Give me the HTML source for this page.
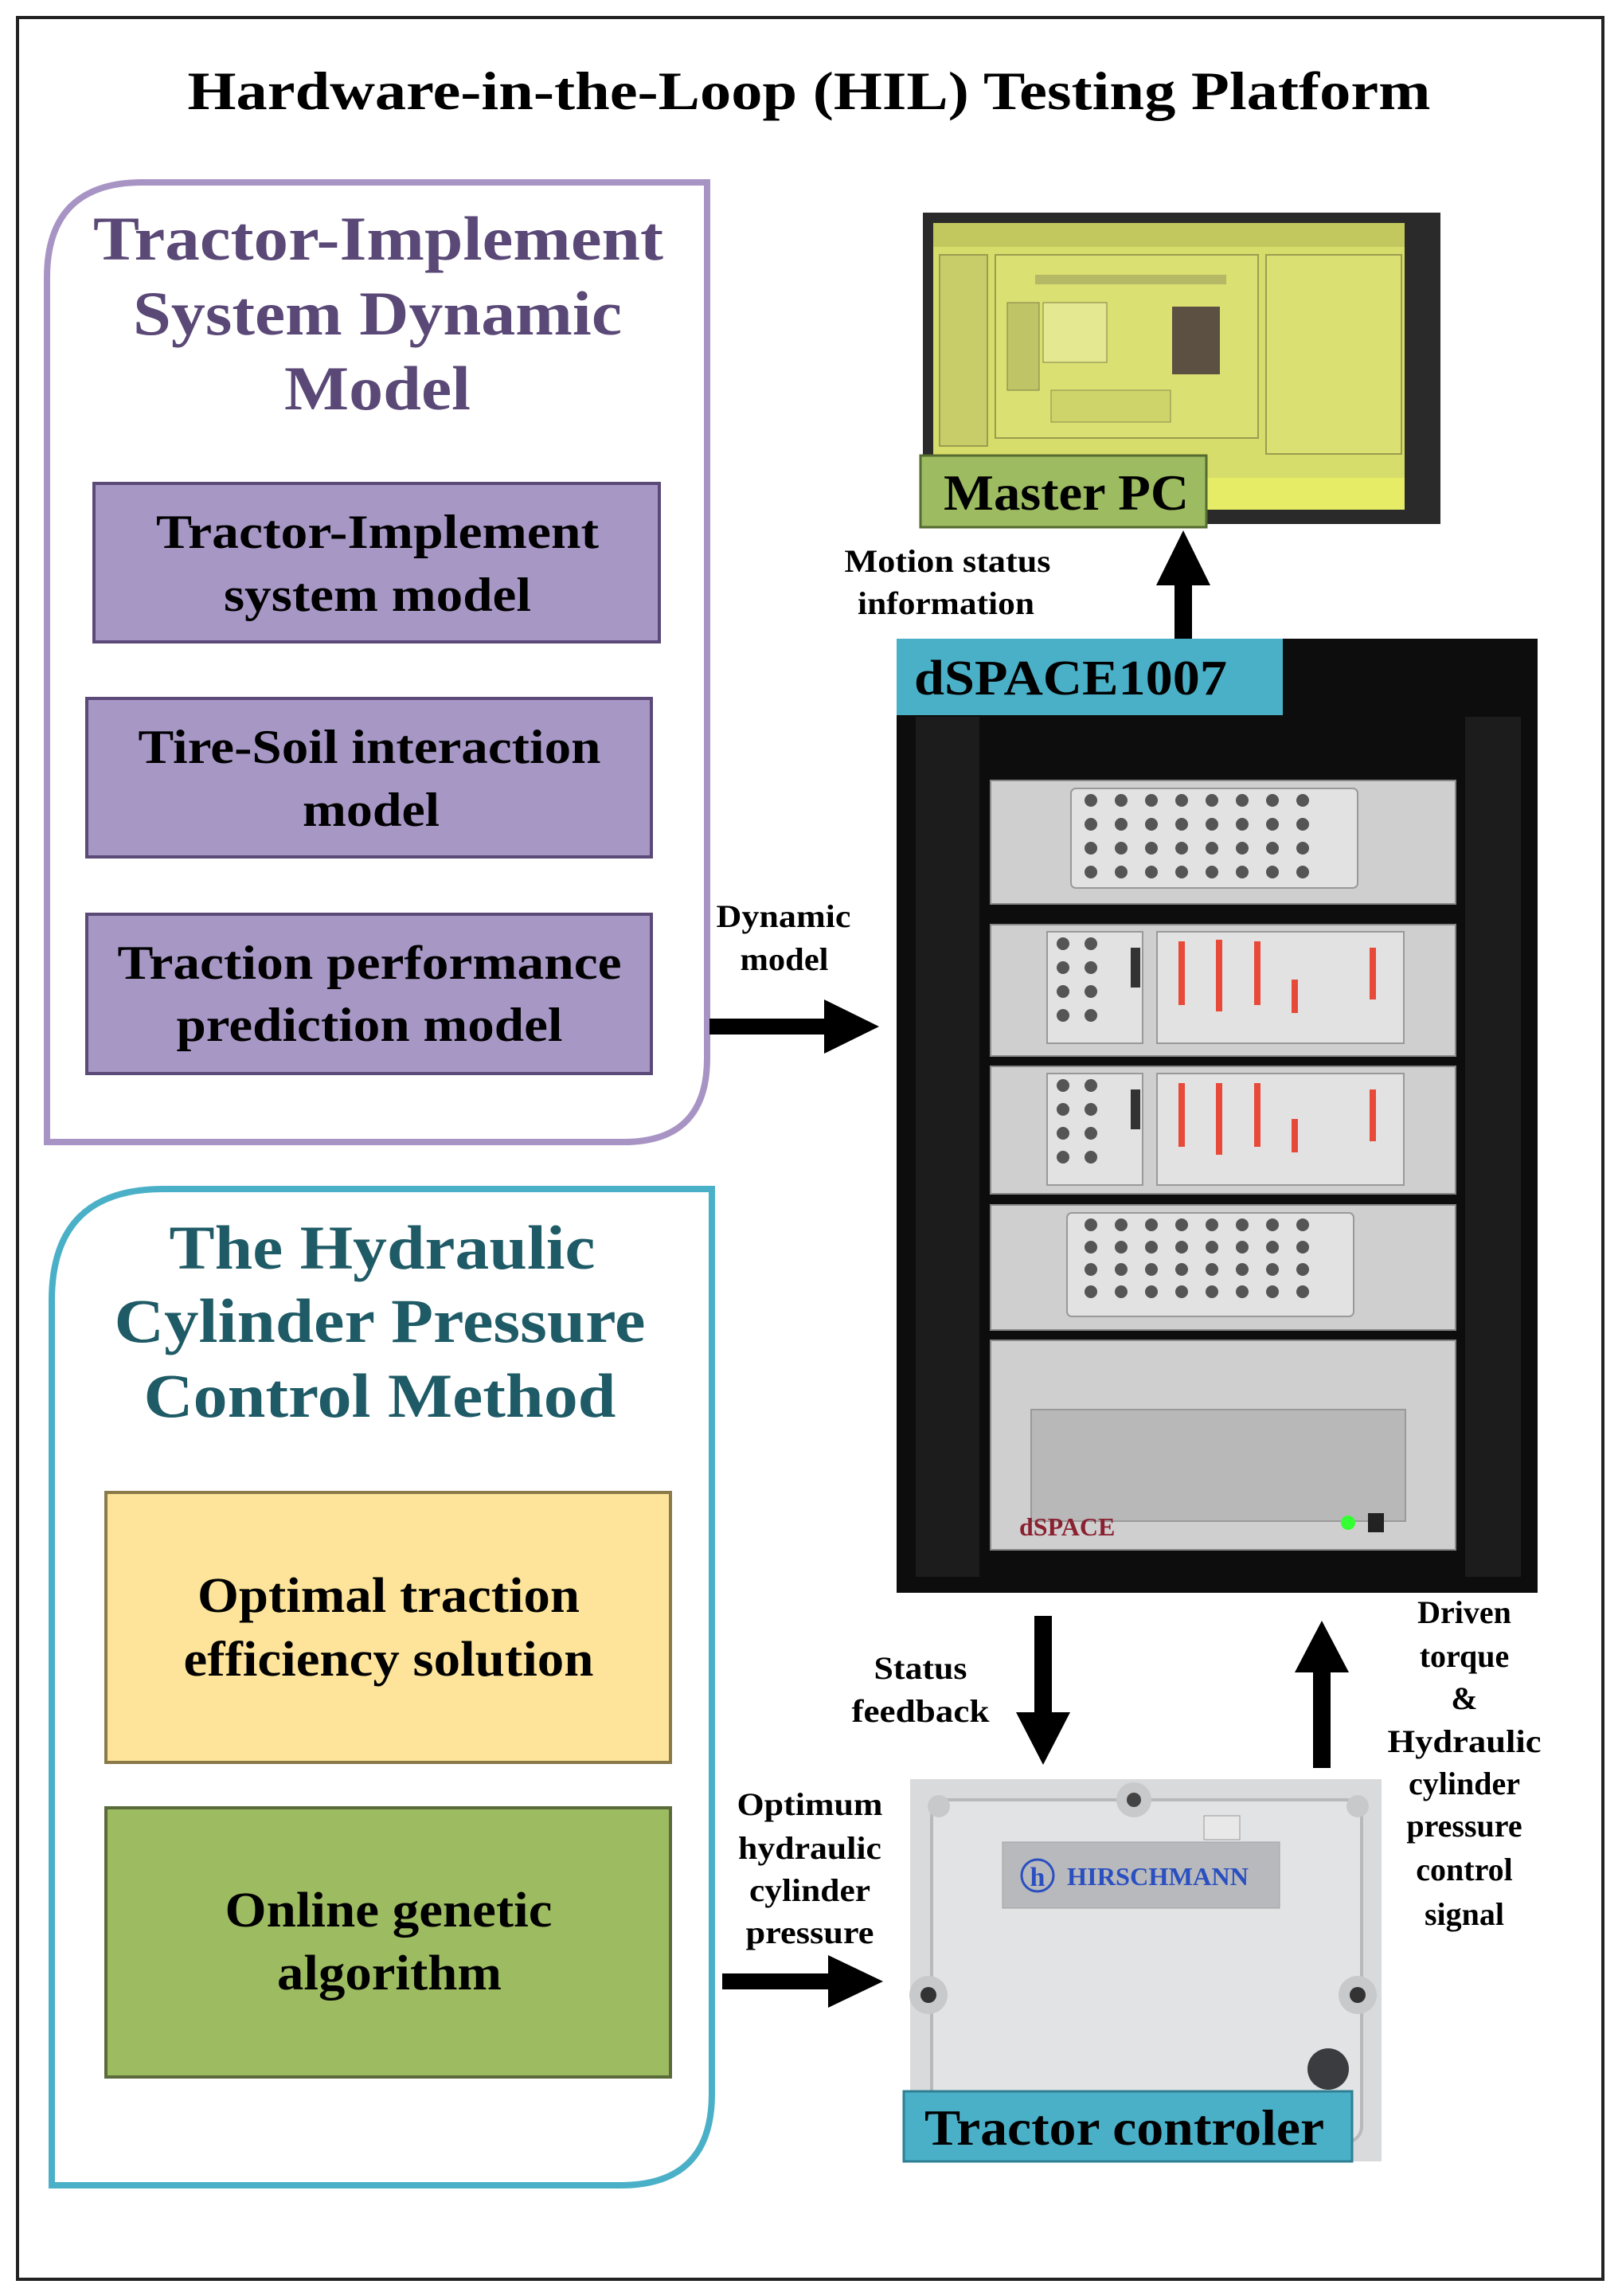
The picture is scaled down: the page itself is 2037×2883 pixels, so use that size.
<!DOCTYPE html>
<html><head><meta charset="utf-8"><style>
html,body{margin:0;padding:0;background:#fff;}
svg{display:block;}
text{font-family:"Liberation Serif",serif;font-weight:bold;}
</style></head><body>
<svg width="2037" height="2883" viewBox="0 0 2037 2883" xmlns="http://www.w3.org/2000/svg">
<rect x="0" y="0" width="2037" height="2883" fill="#fff"/>
<rect x="22" y="22" width="1991" height="2840" fill="none" stroke="#222" stroke-width="4"/>
<text x="1016" y="137" font-size="68" text-anchor="middle" textLength="1561" lengthAdjust="spacingAndGlyphs">Hardware-in-the-Loop (HIL) Testing Platform</text>

<!-- purple panel -->
<path d="M59,349 Q59,229 179,229 L888,229 L888,1329 Q888,1434 783,1434 L59,1434 Z" fill="#fff" stroke="#a894c4" stroke-width="8"/>
<g fill="#5a4877" font-size="78">
<text x="475" y="326" text-anchor="middle" textLength="716" lengthAdjust="spacingAndGlyphs">Tractor-Implement</text>
<text x="474" y="420" text-anchor="middle" textLength="614" lengthAdjust="spacingAndGlyphs">System Dynamic</text>
<text x="474" y="514" text-anchor="middle" textLength="234" lengthAdjust="spacingAndGlyphs">Model</text>
</g>
<g stroke="#5b4a78" stroke-width="4" fill="#a797c5">
<rect x="118" y="607" width="710" height="199"/>
<rect x="109" y="877" width="709" height="199"/>
<rect x="109" y="1148" width="709" height="200"/>
</g>
<g font-size="60" text-anchor="middle" fill="#000">
<text x="474" y="688" textLength="556" lengthAdjust="spacingAndGlyphs">Tractor-Implement</text>
<text x="474" y="767" textLength="386" lengthAdjust="spacingAndGlyphs">system model</text>
<text x="464" y="958" textLength="581" lengthAdjust="spacingAndGlyphs">Tire-Soil interaction</text>
<text x="466" y="1037" textLength="172" lengthAdjust="spacingAndGlyphs">model</text>
<text x="464" y="1229" textLength="633" lengthAdjust="spacingAndGlyphs">Traction performance</text>
<text x="464" y="1307" textLength="485" lengthAdjust="spacingAndGlyphs">prediction model</text>
</g>

<!-- teal panel -->
<path d="M65,1633 Q65,1493 205,1493 L894,1493 L894,2629 Q894,2744 779,2744 L65,2744 Z" fill="#fff" stroke="#4ab0c8" stroke-width="8"/>
<g fill="#1f5b66" font-size="78" text-anchor="middle">
<text x="480" y="1593" textLength="535" lengthAdjust="spacingAndGlyphs">The Hydraulic</text>
<text x="477" y="1685" textLength="667" lengthAdjust="spacingAndGlyphs">Cylinder Pressure</text>
<text x="477" y="1779" textLength="593" lengthAdjust="spacingAndGlyphs">Control Method</text>
</g>
<rect x="133" y="1874" width="709" height="339" fill="#fde49a" stroke="#8a7a4a" stroke-width="4"/>
<rect x="133" y="2270" width="709" height="338" fill="#9dbb61" stroke="#5a6a3a" stroke-width="4"/>
<g font-size="62" text-anchor="middle" fill="#000">
<text x="488" y="2024" textLength="480" lengthAdjust="spacingAndGlyphs">Optimal traction</text>
<text x="488" y="2104" textLength="515" lengthAdjust="spacingAndGlyphs">efficiency solution</text>
<text x="488" y="2419" textLength="411" lengthAdjust="spacingAndGlyphs">Online genetic</text>
<text x="489" y="2498" textLength="282" lengthAdjust="spacingAndGlyphs">algorithm</text>
</g>

<!-- monitor -->
<rect x="1159" y="267" width="650" height="391" fill="#2a2a2a"/>
<rect x="1172" y="280" width="592" height="360" fill="#d6dd6a"/>
<rect x="1172" y="280" width="592" height="30" fill="#c3c85e"/>
<rect x="1180" y="320" width="60" height="240" fill="#c8cd6a" stroke="#9a9d50" stroke-width="2"/>
<rect x="1250" y="320" width="330" height="230" fill="#dbe072" stroke="#9a9d50" stroke-width="2"/>
<rect x="1300" y="345" width="240" height="12" fill="#b5b865"/>
<rect x="1265" y="380" width="40" height="110" fill="#bfc466" stroke="#7f7f48"/>
<rect x="1310" y="380" width="80" height="75" fill="#e4e890" stroke="#7f7f48"/>
<rect x="1472" y="385" width="60" height="85" fill="#5c5042"/>
<rect x="1590" y="320" width="170" height="250" fill="#dbe072" stroke="#9a9d50" stroke-width="2"/>
<rect x="1320" y="490" width="150" height="40" fill="#cfd46a" stroke="#8a8d50"/>
<rect x="1172" y="600" width="592" height="40" fill="#e6ec66"/>
<rect x="1156" y="572" width="359" height="90" fill="#9dbb61" stroke="#556b2f" stroke-width="3"/>
<text x="1339" y="640" font-size="64" text-anchor="middle" textLength="308" lengthAdjust="spacingAndGlyphs">Master PC</text>

<!-- up arrow to master PC -->
<rect x="1475" y="730" width="22" height="75" fill="#000"/>
<polygon points="1452,735 1486,666 1520,735" fill="#000"/>
<g font-size="40" text-anchor="middle">
<text x="1190" y="718" textLength="259" lengthAdjust="spacingAndGlyphs">Motion status</text>
<text x="1188" y="771" textLength="222" lengthAdjust="spacingAndGlyphs">information</text>
</g>

<!-- rack -->
<rect x="1126" y="802" width="805" height="1198" fill="#0d0d0d"/>
<rect x="1150" y="900" width="80" height="1080" fill="#1c1c1c"/>
<rect x="1840" y="900" width="70" height="1080" fill="#1c1c1c"/>
<g fill="#cfcfcf" stroke="#888" stroke-width="2">
<rect x="1244" y="980" width="584" height="155"/>
<rect x="1244" y="1161" width="584" height="165"/>
<rect x="1244" y="1339" width="584" height="160"/>
<rect x="1244" y="1513" width="584" height="157"/>
<rect x="1244" y="1683" width="584" height="263"/>
</g>
<g fill="#e2e2e2" stroke="#999" stroke-width="2">
<rect x="1345" y="990" width="360" height="125" rx="6"/>
<rect x="1315" y="1170" width="120" height="140"/>
<rect x="1453" y="1170" width="310" height="140"/>
<rect x="1315" y="1348" width="120" height="140"/>
<rect x="1453" y="1348" width="310" height="140"/>
<rect x="1340" y="1523" width="360" height="130" rx="6"/>
<rect x="1295" y="1770" width="470" height="140" fill="#b8b8b8"/>
</g>
<g fill="#555">
<circle cx="1370" cy="1005" r="8"/><circle cx="1408" cy="1005" r="8"/><circle cx="1446" cy="1005" r="8"/><circle cx="1484" cy="1005" r="8"/><circle cx="1522" cy="1005" r="8"/><circle cx="1560" cy="1005" r="8"/><circle cx="1598" cy="1005" r="8"/><circle cx="1636" cy="1005" r="8"/>
<circle cx="1370" cy="1035" r="8"/><circle cx="1408" cy="1035" r="8"/><circle cx="1446" cy="1035" r="8"/><circle cx="1484" cy="1035" r="8"/><circle cx="1522" cy="1035" r="8"/><circle cx="1560" cy="1035" r="8"/><circle cx="1598" cy="1035" r="8"/><circle cx="1636" cy="1035" r="8"/>
<circle cx="1370" cy="1065" r="8"/><circle cx="1408" cy="1065" r="8"/><circle cx="1446" cy="1065" r="8"/><circle cx="1484" cy="1065" r="8"/><circle cx="1522" cy="1065" r="8"/><circle cx="1560" cy="1065" r="8"/><circle cx="1598" cy="1065" r="8"/><circle cx="1636" cy="1065" r="8"/>
<circle cx="1370" cy="1095" r="8"/><circle cx="1408" cy="1095" r="8"/><circle cx="1446" cy="1095" r="8"/><circle cx="1484" cy="1095" r="8"/><circle cx="1522" cy="1095" r="8"/><circle cx="1560" cy="1095" r="8"/><circle cx="1598" cy="1095" r="8"/><circle cx="1636" cy="1095" r="8"/>
<circle cx="1370" cy="1538" r="8"/><circle cx="1408" cy="1538" r="8"/><circle cx="1446" cy="1538" r="8"/><circle cx="1484" cy="1538" r="8"/><circle cx="1522" cy="1538" r="8"/><circle cx="1560" cy="1538" r="8"/><circle cx="1598" cy="1538" r="8"/><circle cx="1636" cy="1538" r="8"/>
<circle cx="1370" cy="1566" r="8"/><circle cx="1408" cy="1566" r="8"/><circle cx="1446" cy="1566" r="8"/><circle cx="1484" cy="1566" r="8"/><circle cx="1522" cy="1566" r="8"/><circle cx="1560" cy="1566" r="8"/><circle cx="1598" cy="1566" r="8"/><circle cx="1636" cy="1566" r="8"/>
<circle cx="1370" cy="1594" r="8"/><circle cx="1408" cy="1594" r="8"/><circle cx="1446" cy="1594" r="8"/><circle cx="1484" cy="1594" r="8"/><circle cx="1522" cy="1594" r="8"/><circle cx="1560" cy="1594" r="8"/><circle cx="1598" cy="1594" r="8"/><circle cx="1636" cy="1594" r="8"/>
<circle cx="1370" cy="1622" r="8"/><circle cx="1408" cy="1622" r="8"/><circle cx="1446" cy="1622" r="8"/><circle cx="1484" cy="1622" r="8"/><circle cx="1522" cy="1622" r="8"/><circle cx="1560" cy="1622" r="8"/><circle cx="1598" cy="1622" r="8"/><circle cx="1636" cy="1622" r="8"/>
<circle cx="1335" cy="1185" r="8"/><circle cx="1370" cy="1185" r="8"/><circle cx="1335" cy="1215" r="8"/><circle cx="1370" cy="1215" r="8"/><circle cx="1335" cy="1245" r="8"/><circle cx="1370" cy="1245" r="8"/><circle cx="1335" cy="1275" r="8"/><circle cx="1370" cy="1275" r="8"/>
<circle cx="1335" cy="1363" r="8"/><circle cx="1370" cy="1363" r="8"/><circle cx="1335" cy="1393" r="8"/><circle cx="1370" cy="1393" r="8"/><circle cx="1335" cy="1423" r="8"/><circle cx="1370" cy="1423" r="8"/><circle cx="1335" cy="1453" r="8"/><circle cx="1370" cy="1453" r="8"/>
<rect x="1420" y="1190" width="12" height="50" fill="#333"/>
<rect x="1420" y="1368" width="12" height="50" fill="#333"/>
</g>
<g fill="#e84a3a">
<rect x="1480" y="1182" width="8" height="80"/><rect x="1527" y="1180" width="8" height="90"/><rect x="1575" y="1182" width="8" height="80"/><rect x="1622" y="1230" width="8" height="42"/><rect x="1720" y="1190" width="8" height="65"/>
<rect x="1480" y="1360" width="8" height="80"/><rect x="1527" y="1360" width="8" height="90"/><rect x="1575" y="1360" width="8" height="80"/><rect x="1622" y="1405" width="8" height="42"/><rect x="1720" y="1368" width="8" height="65"/>
</g>
<text x="1280" y="1928" font-family="Liberation Sans,sans-serif" font-size="32" fill="#8a2030">dSPACE</text>
<circle cx="1693" cy="1912" r="9" fill="#3f3"/>
<rect x="1718" y="1900" width="20" height="24" fill="#222"/>
<rect x="1126" y="802" width="485" height="96" fill="#4ab0c8"/>
<text x="1148" y="872" font-size="62" textLength="393" lengthAdjust="spacingAndGlyphs">dSPACE1007</text>

<!-- dynamic model arrow -->
<rect x="891" y="1279" width="150" height="20" fill="#000"/>
<polygon points="1035,1255 1104,1289 1035,1323" fill="#000"/>
<g font-size="40" text-anchor="middle">
<text x="984" y="1164" textLength="169" lengthAdjust="spacingAndGlyphs">Dynamic</text>
<text x="985" y="1218" textLength="111" lengthAdjust="spacingAndGlyphs">model</text>
</g>

<!-- status feedback arrow down -->
<rect x="1299" y="2029" width="22" height="125" fill="#000"/>
<polygon points="1276,2150 1310,2216 1344,2150" fill="#000"/>
<g font-size="40" text-anchor="middle">
<text x="1156" y="2108" textLength="117" lengthAdjust="spacingAndGlyphs">Status</text>
<text x="1156" y="2162" textLength="173" lengthAdjust="spacingAndGlyphs">feedback</text>
</g>

<!-- up arrow right -->
<rect x="1649" y="2095" width="22" height="125" fill="#000"/>
<polygon points="1626,2100 1660,2035 1694,2100" fill="#000"/>
<g font-size="40" text-anchor="middle">
<text x="1839" y="2038">Driven</text>
<text x="1839" y="2093">torque</text>
<text x="1839" y="2146">&amp;</text>
<text x="1839" y="2200" textLength="193" lengthAdjust="spacingAndGlyphs">Hydraulic</text>
<text x="1839" y="2253">cylinder</text>
<text x="1839" y="2306">pressure</text>
<text x="1839" y="2361">control</text>
<text x="1839" y="2417">signal</text>
</g>

<!-- optimum arrow -->
<rect x="907" y="2478" width="135" height="20" fill="#000"/>
<polygon points="1040,2455 1109,2488 1040,2521" fill="#000"/>
<g font-size="40" text-anchor="middle">
<text x="1017" y="2279" textLength="183" lengthAdjust="spacingAndGlyphs">Optimum</text>
<text x="1017" y="2334" textLength="180" lengthAdjust="spacingAndGlyphs">hydraulic</text>
<text x="1017" y="2387" textLength="152" lengthAdjust="spacingAndGlyphs">cylinder</text>
<text x="1017" y="2440" textLength="161" lengthAdjust="spacingAndGlyphs">pressure</text>
</g>

<!-- controller -->
<rect x="1143" y="2234" width="592" height="480" fill="#d9dadc"/>
<rect x="1170" y="2260" width="540" height="430" fill="#e2e3e5" stroke="#b8b9bb" stroke-width="4" rx="20"/>
<circle cx="1179" cy="2268" r="14" fill="#c8c9cb"/>
<circle cx="1705" cy="2268" r="14" fill="#c8c9cb"/>
<circle cx="1424" cy="2260" r="22" fill="#c8c9cb"/><circle cx="1424" cy="2260" r="9" fill="#444"/>
<circle cx="1166" cy="2505" r="24" fill="#c8c9cb"/><circle cx="1166" cy="2505" r="10" fill="#333"/>
<circle cx="1705" cy="2505" r="24" fill="#c8c9cb"/><circle cx="1705" cy="2505" r="10" fill="#333"/>
<circle cx="1668" cy="2598" r="26" fill="#3a3c40"/>
<rect x="1512" y="2280" width="45" height="30" fill="#e8e8e8" stroke="#999"/>
<rect x="1259" y="2313" width="348" height="83" fill="#b8b9bc" stroke="#a0a1a4"/>
<circle cx="1303" cy="2355" r="20" fill="none" stroke="#2a4fc0" stroke-width="3"/>
<text x="1303" y="2368" font-family="Liberation Sans,sans-serif" font-size="34" fill="#2a4fc0" text-anchor="middle" font-weight="normal">h</text>
<text x="1340" y="2367" font-family="Liberation Sans,sans-serif" font-size="32" fill="#2a4fc0" textLength="228" lengthAdjust="spacingAndGlyphs">HIRSCHMANN</text>
<rect x="1135" y="2626" width="563" height="88" fill="#4ab0c8" stroke="#2f7f94" stroke-width="3"/>
<text x="1412" y="2693" font-size="64" text-anchor="middle" textLength="502" lengthAdjust="spacingAndGlyphs">Tractor controler</text>
</svg>
</body></html>
